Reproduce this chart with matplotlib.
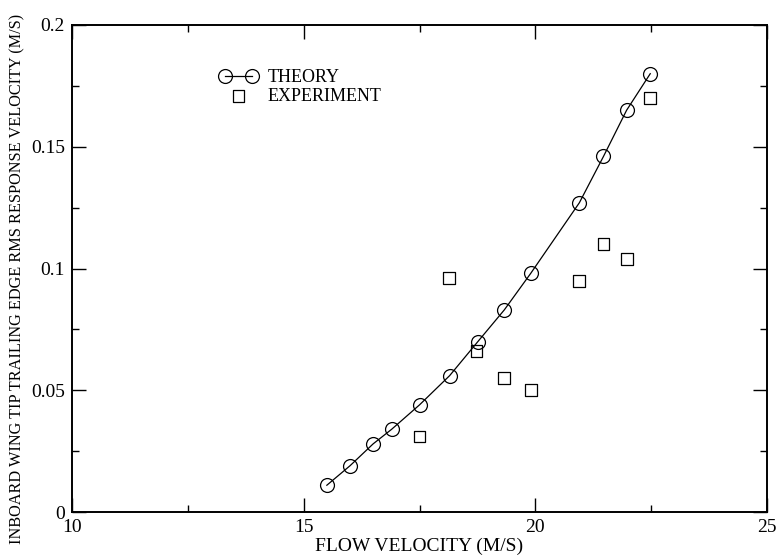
import matplotlib
matplotlib.use("Agg")
import matplotlib.pyplot as plt
from matplotlib.ticker import MultipleLocator

# flow velocity (m/s) vs. rms response velocity (m/s)
theory_v = [15.5, 16.0, 16.5, 16.9, 17.5, 18.15, 18.76, 19.33, 19.9, 20.95, 21.47, 21.97, 22.48]
theory_rms = [0.011, 0.019, 0.028, 0.034, 0.044, 0.056, 0.070, 0.083, 0.098, 0.127, 0.146, 0.165, 0.180]

exp_v = [17.5, 18.14, 18.73, 19.32, 19.9, 20.95, 21.47, 21.97, 22.48]
exp_rms = [0.031, 0.096, 0.066, 0.055, 0.050, 0.095, 0.110, 0.104, 0.170]

y_ticks = [0, 0.05, 0.1, 0.15, 0.2]
y_ticklabels = ["0", "0.05", "0.1", "0.15", "0.2"]

plt.rcParams["font.family"] = ["Liberation Serif", "DejaVu Serif"]

fig = plt.figure(figsize=(7.76, 5.58), dpi=100)
ax = fig.add_axes([0.0928, 0.0824, 0.8956, 0.8728])

ax.plot(theory_v, theory_rms, color="black", lw=0.9, marker="o", ms=10,
        mfc="none", mec="black", mew=0.9, label="THEORY")
ax.scatter(exp_v, exp_rms, marker="s", s=8.5 ** 2, facecolors="none",
           edgecolors="black", linewidths=0.9, label="EXPERIMENT")

ax.set_xlim(10, 25)
ax.set_ylim(0, 0.2)
ax.xaxis.set_major_locator(MultipleLocator(5))
ax.xaxis.set_minor_locator(MultipleLocator(2.5))
ax.set_yticks(y_ticks)
ax.set_yticklabels(y_ticklabels)
ax.yaxis.set_minor_locator(MultipleLocator(0.025))

ax.tick_params(which="both", direction="in", top=True, right=True, width=1.0,
               labelsize=14)
ax.tick_params(which="major", length=10)
ax.tick_params(which="minor", length=5)
ax.tick_params(axis="x", pad=5)
ax.tick_params(axis="y", pad=5)
for sp in ax.spines.values():
    sp.set_linewidth(1.4)

ax.set_xlabel("FLOW VELOCITY (M/S)", fontsize=14, labelpad=1)
ax.set_ylabel("INBOARD WING TIP TRAILING EDGE RMS RESPONSE VELOCITY (M/S)",
              fontsize=11.7)
ax.yaxis.set_label_coords(-0.067, 0.479)

ax.legend(loc="upper left", bbox_to_anchor=(0.2124, 0.909), frameon=False,
          fontsize=13, numpoints=2, scatterpoints=1, handlelength=2.1,
          handletextpad=0.55, borderpad=0, borderaxespad=0, labelspacing=0.1)

fig.savefig("out.png", dpi=100)
